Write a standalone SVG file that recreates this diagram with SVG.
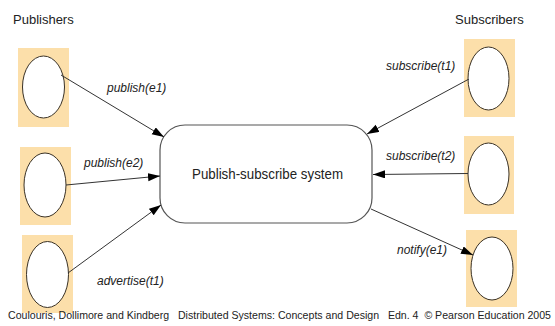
<svg xmlns="http://www.w3.org/2000/svg" width="555" height="326" viewBox="0 0 555 326">
  <style>
    .bg { fill: #fcdfaa; stroke: none; }
    .proc { fill: #ffffff; stroke: #3a3226; stroke-width: 1; }
    .sys { fill: #ffffff; stroke: #555555; stroke-width: 1.2; }
    .conn { stroke: #333333; stroke-width: 1; fill: none; marker-end: url(#arrow); }
    .title { font-family: "Liberation Sans", Arial, sans-serif; font-size: 13px; fill: #222222; }
    .lbl { font-family: "Liberation Sans", Arial, sans-serif; font-size: 12px; font-style: italic; fill: #222222; }
    .sysText { font-family: "Liberation Sans", Arial, sans-serif; font-size: 15px; fill: #222222; }
    .foot { font-family: "Liberation Sans", Arial, sans-serif; font-size: 10.5px; fill: #222222; white-space: pre; }
  </style>
  <defs>
    <marker id="arrow" markerUnits="userSpaceOnUse" markerWidth="13" markerHeight="9" refX="12" refY="4" orient="auto">
      <path d="M0,0 L12,4 L0,8 z" fill="#000000"/>
    </marker>
  </defs>
  <rect width="555" height="326" fill="#ffffff"/>

  <text class="title" x="13" y="24">Publishers</text>
  <text class="title" x="455" y="24">Subscribers</text>

  <g id="publisher1">
    <rect class="bg" x="18" y="48" width="51" height="79"/>
    <ellipse class="proc" cx="43.5" cy="87" rx="21" ry="31"/>
  </g>
  <g id="publisher2">
    <rect class="bg" x="20" y="147" width="51" height="78"/>
    <ellipse class="proc" cx="45" cy="185" rx="21" ry="32"/>
  </g>
  <g id="publisher3">
    <rect class="bg" x="22" y="235" width="51" height="78"/>
    <ellipse class="proc" cx="47.5" cy="274.5" rx="21" ry="33"/>
  </g>
  <g id="subscriber1">
    <rect class="bg" x="464" y="39" width="51" height="78"/>
    <ellipse class="proc" cx="488.5" cy="78.5" rx="20.5" ry="31.5"/>
  </g>
  <g id="subscriber2">
    <rect class="bg" x="464" y="136" width="50" height="78"/>
    <ellipse class="proc" cx="488.5" cy="174" rx="20.5" ry="31"/>
  </g>
  <g id="subscriber3">
    <rect class="bg" x="466" y="230" width="51" height="77"/>
    <ellipse class="proc" cx="492" cy="268.5" rx="21" ry="31.5"/>
  </g>

  <g id="system">
    <rect class="sys" x="160" y="125" width="212" height="98" rx="25" ry="25"/>
    <text class="sysText" x="192" y="179" textLength="151" lengthAdjust="spacingAndGlyphs">Publish-subscribe system</text>
  </g>

  <g id="connectors">
    <line class="conn" x1="61" y1="75" x2="164" y2="137"/>
    <line class="conn" x1="66" y1="185" x2="160" y2="176"/>
    <line class="conn" x1="68" y1="273" x2="161" y2="205"/>
    <line class="conn" x1="469" y1="79" x2="367" y2="134"/>
    <line class="conn" x1="468" y1="173.5" x2="373" y2="174.5"/>
    <line class="conn" x1="371" y1="209" x2="473" y2="255"/>
    <text class="lbl" x="107" y="92">publish(e1)</text>
    <text class="lbl" x="84" y="167">publish(e2)</text>
    <text class="lbl" x="97" y="285">advertise(t1)</text>
    <text class="lbl" x="386" y="70">subscribe(t1)</text>
    <text class="lbl" x="386" y="160">subscribe(t2)</text>
    <text class="lbl" x="397" y="254">notify(e1)</text>
  </g>

  <text class="foot" x="8" y="319" textLength="543" lengthAdjust="spacingAndGlyphs" xml:space="preserve">Coulouris, Dollimore and Kindberg   Distributed Systems: Concepts and Design   Edn. 4  © Pearson Education 2005</text>
</svg>
